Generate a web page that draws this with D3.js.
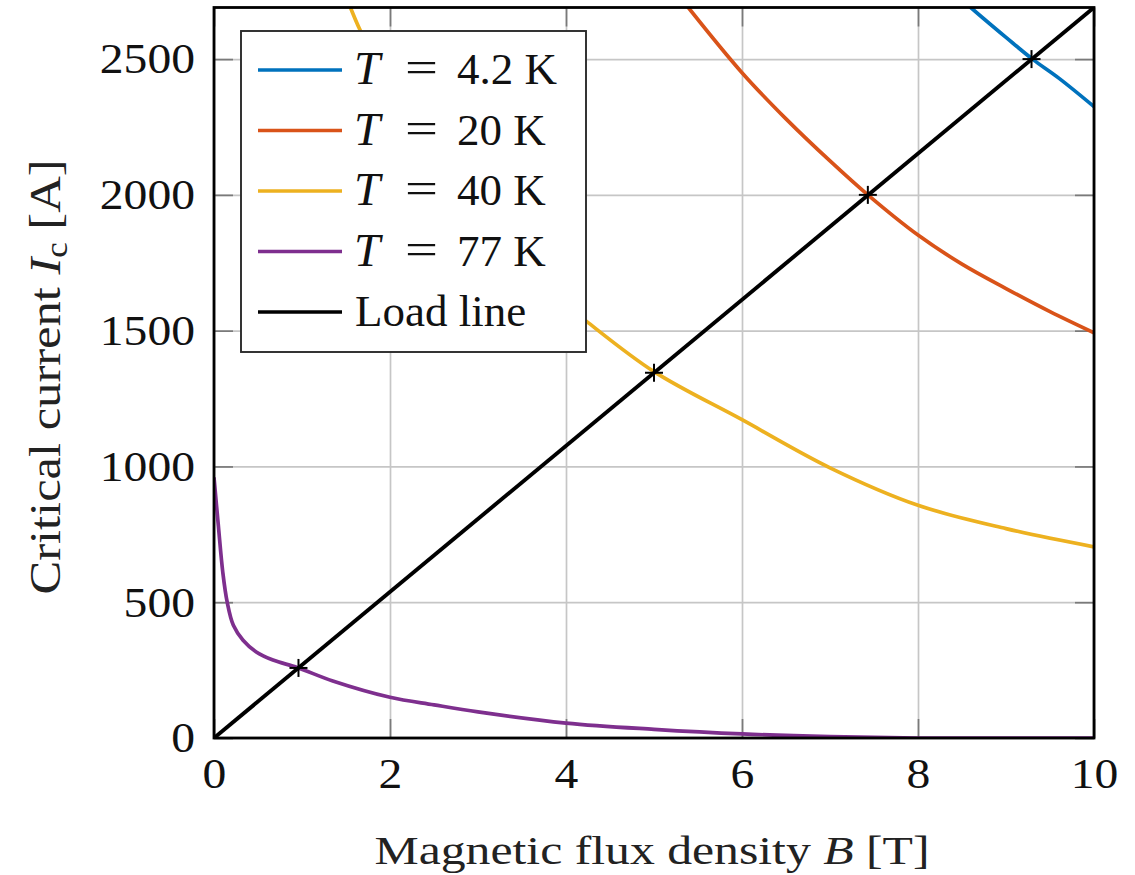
<!DOCTYPE html>
<html>
<head>
<meta charset="utf-8">
<script src="https://cdn.jsdelivr.net/npm/d3@7"></script>
<style>
  html, body { margin: 0; padding: 0; background: #ffffff; }
  svg { display: block; }
</style>
</head>
<body>
<div id="chart"></div>
<script>
// Critical current of the conductor at four temperatures versus field, with the magnet load line.
const xTicks = [0, 2, 4, 6, 8, 10];
const yTicks = [0, 500, 1000, 1500, 2000, 2500];

const seriesNames = ["T = 4.2 K", "T = 20 K", "T = 40 K", "T = 77 K"];
const seriesTemps = ["4.2 K", "20 K", "40 K", "77 K"];
const seriesColors = ["#0072BD", "#D95319", "#EDB120", "#7E2F8E"];

// B in tesla, Ic in ampere
const b4K = [8.45, 8.6, 9.0, 9.3, 9.6, 10.0];
const ic4K = [2735, 2690, 2580, 2500, 2430, 2325];

const b20K = [5.2, 5.39, 6.0, 6.5, 7.0, 7.43, 8.0, 8.5, 9.0, 9.5, 10.0];
const ic20K = [2770, 2690, 2450, 2280, 2125, 2000, 1852, 1745, 1655, 1570, 1492];

const b40K = [1.45, 1.55, 1.66, 2.0, 2.5, 3.0, 3.5, 4.0, 4.23, 5.0, 6.0, 7.0, 8.0, 9.0, 10.0];
const ic40K = [2770, 2690, 2607, 2400, 2140, 1920, 1740, 1595, 1535, 1349, 1172, 995, 857, 771, 704];

const b77K = [0, 0.05, 0.1, 0.15, 0.22, 0.33, 0.48, 0.67, 0.95, 1.35, 2.0, 2.5, 3.0, 4.0, 5.0, 6.0, 7.0, 8.0, 9.0, 10.0];
const ic77K = [960, 780, 610, 500, 415, 360, 317, 287, 259, 210, 150, 122, 96, 55, 32, 15, 5, 0, 0, 0];

const loadB = [0, 10];
const loadI = [0, 2690];

// operating points where the load line meets each curve
const crossB = [0.96, 5.0, 7.43, 9.29];
const crossI = [258, 1345, 2000, 2500];

const W = 1135, H = 875;
const margin = { left: 214, right: 1135 - 1094, top: 7.5, bottom: 875 - 738 };
const pw = W - margin.left - margin.right;
const ph = H - margin.top - margin.bottom;

const x = d3.scaleLinear().domain([0, 10]).range([0, pw]);
const y = d3.scaleLinear().domain([0, 2690]).range([ph, 0]);

const svg = d3.select("#chart").append("svg")
  .attr("width", W).attr("height", H)
  .attr("viewBox", `0 0 ${W} ${H}`);

svg.append("rect").attr("width", W).attr("height", H).attr("fill", "#fff");

const defs = svg.append("defs");
defs.append("clipPath").attr("id", "plotClip")
  .append("rect").attr("width", pw).attr("height", ph);

const g = svg.append("g").attr("transform", `translate(${margin.left},${margin.top})`);

// grid
g.append("g").attr("class", "grid")
  .attr("transform", `translate(0,${ph})`)
  .call(d3.axisBottom(x).tickValues(xTicks).tickSize(-ph).tickFormat(""));
g.append("g").attr("class", "grid")
  .call(d3.axisLeft(y).tickValues(yTicks).tickSize(-pw).tickFormat(""));
g.selectAll(".grid .domain").remove();
g.selectAll(".grid line").attr("stroke", "#c6c6c6").attr("stroke-width", 1.7);

// inward ticks on all four sides
const tickLen = 19;
const tickGroups = [
  g.append("g").attr("transform", `translate(0,${ph})`).call(d3.axisBottom(x).tickValues(xTicks).tickSize(-tickLen).tickFormat("")),
  g.append("g").call(d3.axisTop(x).tickValues(xTicks).tickSize(-tickLen).tickFormat("")),
  g.append("g").call(d3.axisLeft(y).tickValues(yTicks).tickSize(-tickLen).tickFormat("")),
  g.append("g").attr("transform", `translate(${pw},0)`).call(d3.axisRight(y).tickValues(yTicks).tickSize(-tickLen).tickFormat(""))
];
tickGroups.forEach(t => {
  t.select(".domain").remove();
  t.selectAll("line").attr("stroke", "#7a7a7a").attr("stroke-width", 1.7);
});

// curves
const plot = g.append("g").attr("clip-path", "url(#plotClip)");
const line = d3.line().x(d => x(d[0])).y(d => y(d[1])).curve(d3.curveCatmullRom.alpha(0.5));

const seriesData = [
  d3.zip(b4K, ic4K),
  d3.zip(b20K, ic20K),
  d3.zip(b40K, ic40K),
  d3.zip(b77K, ic77K)
];

seriesData.forEach((pts, i) => {
  plot.append("path")
    .attr("d", line(pts))
    .attr("fill", "none")
    .attr("stroke", seriesColors[i])
    .attr("stroke-width", 3.7)
    .attr("stroke-linejoin", "round");
});

plot.append("path")
  .attr("d", d3.line().x(d => x(d[0])).y(d => y(d[1]))(d3.zip(loadB, loadI)))
  .attr("fill", "none")
  .attr("stroke", "#000")
  .attr("stroke-width", 3.9);

// operating-point markers
const cs = 9;
const crosses = g.append("g").selectAll("g").data(d3.zip(crossB, crossI)).join("g")
  .attr("transform", d => `translate(${x(d[0])},${y(d[1])})`);
crosses.append("line").attr("x1", -cs).attr("x2", cs).attr("y1", 0).attr("y2", 0)
  .attr("stroke", "#000").attr("stroke-width", 2);
crosses.append("line").attr("x1", 0).attr("x2", 0).attr("y1", -cs).attr("y2", cs)
  .attr("stroke", "#000").attr("stroke-width", 2);

// frame
g.append("rect").attr("width", pw).attr("height", ph)
  .attr("fill", "none").attr("stroke", "#000").attr("stroke-width", 2.8);

// tick labels
const serif = "'Liberation Serif', 'Times New Roman', serif";
const digitW = 23.8;
const xLab = g.append("g").attr("transform", `translate(0,${ph})`)
  .call(d3.axisBottom(x).tickValues(xTicks).tickSize(0).tickPadding(0).tickFormat(d3.format("d")));
xLab.select(".domain").remove();
xLab.selectAll("text")
  .attr("y", 50).attr("dy", null)
  .attr("font-family", serif).attr("font-size", 42).attr("fill", "#111")
  .attr("textLength", d => String(d).length * digitW)
  .attr("lengthAdjust", "spacingAndGlyphs");

const yLab = g.append("g")
  .call(d3.axisLeft(y).tickValues(yTicks).tickSize(0).tickPadding(19).tickFormat(d3.format("d")));
yLab.select(".domain").remove();
yLab.selectAll("text")
  .attr("dy", "0.33em")
  .attr("font-family", serif).attr("font-size", 42).attr("fill", "#111")
  .attr("textLength", d => String(d).length * digitW)
  .attr("lengthAdjust", "spacingAndGlyphs");

// axis titles
const xt = svg.append("text")
  .attr("x", 652).attr("y", 864)
  .attr("text-anchor", "middle")
  .attr("font-family", serif).attr("font-size", 40).attr("fill", "#222")
  .attr("textLength", 555).attr("lengthAdjust", "spacingAndGlyphs");
xt.append("tspan").text("Magnetic flux density ");
xt.append("tspan").attr("font-style", "italic").text("B");
xt.append("tspan").text(" [T]");

const yt = svg.append("text")
  .attr("transform", "translate(60,377) rotate(-90)")
  .attr("text-anchor", "middle")
  .attr("font-family", serif).attr("font-size", 45).attr("fill", "#222")
  .attr("textLength", 435).attr("lengthAdjust", "spacingAndGlyphs");
yt.append("tspan").text("Critical current ");
yt.append("tspan").attr("font-style", "italic").text("I");
yt.append("tspan").attr("font-size", 31).attr("dy", 7).text("c");
yt.append("tspan").attr("dy", -7).text(" [A]");

// legend
const leg = svg.append("g");
leg.append("rect")
  .attr("x", 241).attr("y", 31).attr("width", 345).attr("height", 321)
  .attr("fill", "#fff").attr("stroke", "#2a2a2a").attr("stroke-width", 1.9);

const legendRows = seriesNames.map((n, i) => ({ kind: "temp", temp: seriesTemps[i], color: seriesColors[i] }))
  .concat([{ kind: "load", label: "Load line", color: "#000" }]);
const rowY = d3.scaleLinear().domain([0, 4]).range([70, 312]);

legendRows.forEach((r, i) => {
  const cy = rowY(i);
  leg.append("line")
    .attr("x1", 258).attr("x2", 342).attr("y1", cy).attr("y2", cy)
    .attr("stroke", r.color).attr("stroke-width", 3.7);
  if (r.kind === "temp") {
    leg.append("text")
      .attr("x", 354).attr("y", cy + 14)
      .attr("font-family", serif).attr("font-size", 47).attr("font-style", "italic").attr("fill", "#111")
      .text("T");
    leg.append("text")
      .attr("x", 405).attr("y", cy + 12)
      .attr("font-family", serif).attr("font-size", 45).attr("fill", "#111")
      .attr("textLength", 33).attr("lengthAdjust", "spacingAndGlyphs")
      .text("=");
    leg.append("text")
      .attr("x", 457).attr("y", cy + 14)
      .attr("font-family", serif).attr("font-size", 45).attr("fill", "#111")
      .text(r.temp);
  } else {
    leg.append("text")
      .attr("x", 355).attr("y", cy + 14)
      .attr("font-family", serif).attr("font-size", 45).attr("fill", "#111")
      .text(r.label);
  }
});
</script>
</body>
</html>
